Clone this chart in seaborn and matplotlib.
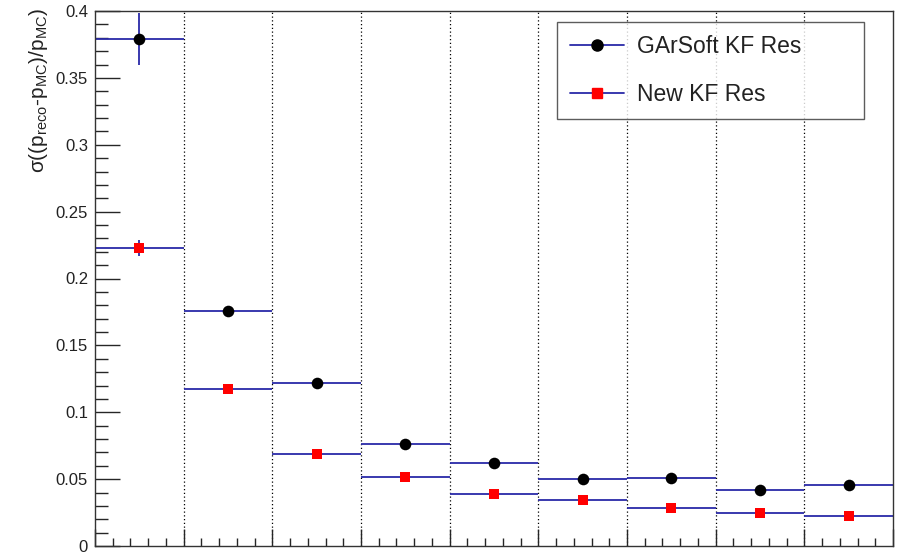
import numpy as np
import matplotlib
matplotlib.use("Agg")
import matplotlib.pyplot as plt
import seaborn as sns
from matplotlib.lines import Line2D
from matplotlib.ticker import MultipleLocator, FuncFormatter

# ---- data ----
bin_edges = [0, 1, 2, 3, 4, 5, 6, 7, 8, 9]
garsoft_res = [0.379, 0.176, 0.122, 0.0764, 0.0622, 0.0502, 0.0512, 0.0420, 0.0457]
garsoft_err = [0.0196, 0.002, 0.002, 0.0015, 0.0012, 0.001, 0.001, 0.001, 0.001]
newkf_res = [0.223, 0.1176, 0.0685, 0.0517, 0.0389, 0.0342, 0.0287, 0.0250, 0.0222]
newkf_err = [0.006, 0.002, 0.0015, 0.001, 0.001, 0.001, 0.001, 0.001, 0.001]
series_names = ["GArSoft KF Res", "New KF Res"]

sns.set_style("white")
plt.rcParams['font.family'] = ['Liberation Sans', 'DejaVu Sans']
plt.rcParams['mathtext.fontset'] = 'custom'
plt.rcParams['mathtext.rm'] = 'Liberation Sans'
plt.rcParams['mathtext.it'] = 'Liberation Sans'
plt.rcParams['mathtext.bf'] = 'Liberation Sans'

edges = np.array(bin_edges, dtype=float)
centers = (edges[:-1] + edges[1:]) / 2
lo, hi = edges[:-1], edges[1:]

fig = plt.figure(figsize=(8.97, 5.53), dpi=100)
ax = fig.add_axes([95 / 897, 1 - 546 / 553, 798 / 897, 535 / 553])

line_col = '#2a2aa8'

# dotted vertical grid at bin edges
for e in edges[1:-1]:
    ax.axvline(e, color='black', lw=0.9, ls=(0, (1, 2)), zorder=0)

for vals, errs in [(garsoft_res, garsoft_err), (newkf_res, newkf_err)]:
    v = np.array(vals)
    er = np.array(errs)
    ax.hlines(v, lo, hi, color=line_col, lw=1.3, zorder=2)
    ax.vlines(centers, v - er, v + er, color=line_col, lw=1.3, zorder=2)

sns.scatterplot(x=centers, y=garsoft_res, marker='o', color='black', s=70,
                linewidth=0, ax=ax, zorder=3, legend=False)
sns.scatterplot(x=centers, y=newkf_res, marker='s', color='#ff0000', s=52,
                linewidth=0, ax=ax, zorder=3, legend=False)

ax.set_xlim(edges[0], edges[-1])
ax.set_ylim(0, 0.4)

ax.xaxis.set_major_locator(MultipleLocator(1))
ax.xaxis.set_minor_locator(MultipleLocator(0.2))
ax.yaxis.set_major_locator(MultipleLocator(0.05))
ax.yaxis.set_minor_locator(MultipleLocator(0.01))
ax.set_xticklabels([])
ax.yaxis.set_major_formatter(FuncFormatter(lambda y, p: f"{y:g}"))

ax.tick_params(axis='y', which='major', direction='in', length=18, width=1.0,
               labelsize=12, pad=5, labelcolor='#222222', left=True, right=False)
ax.tick_params(axis='y', which='minor', direction='in', length=9.5, width=1.0,
               left=True, right=False)
ax.tick_params(axis='x', which='major', direction='in', length=12, width=1.0,
               bottom=True, top=False)
ax.tick_params(axis='x', which='minor', direction='in', length=6, width=1.0,
               bottom=True, top=False)

for s in ax.spines.values():
    s.set_visible(True)
    s.set_color('#333333')
    s.set_linewidth(1.0)

ax.set_ylabel(r'$\mathrm{\sigma((p_{reco}\text{-}p_{MC})/p_{MC})}$', fontsize=15,
              loc='top', color='#222222')
ax.yaxis.set_label_coords(-0.057, 1.006)

handles = [
    Line2D([0], [0], color=line_col, lw=1.3, marker='o', markerfacecolor='black',
           markeredgecolor='black', markersize=8),
    Line2D([0], [0], color=line_col, lw=1.3, marker='s', markerfacecolor='#ff0000',
           markeredgecolor='#ff0000', markersize=7),
]
leg = ax.legend(handles, series_names, loc='upper left',
                bbox_to_anchor=(0.579, 0.800, 0.385, 0.179), mode='expand',
                borderaxespad=0,
                fontsize=16.5, frameon=True, fancybox=False, shadow=False,
                handlelength=2.35, handletextpad=0.57, labelspacing=1.1,
                borderpad=0.55, edgecolor='#333333')
leg.get_frame().set_linewidth(1.0)
for t in leg.get_texts():
    t.set_color('#222222')

fig.savefig('out.png', dpi=100)
